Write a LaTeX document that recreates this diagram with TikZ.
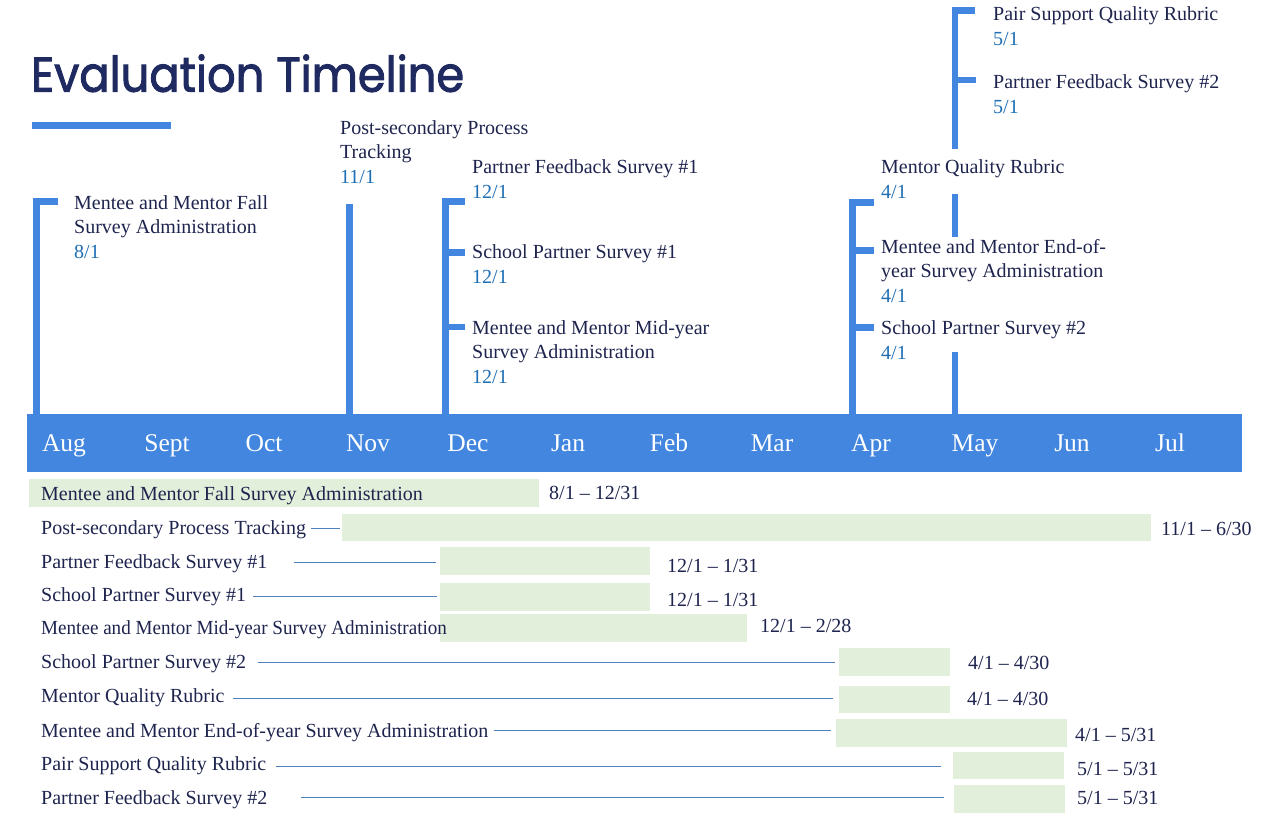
\documentclass[tikz,border=0pt]{standalone}
\usepackage{fontspec}
\setmainfont{Liberation Serif}
\newfontfamily\titlefont{Poppins}[FakeBold=2]
\definecolor{tlblue}{RGB}{66,134,223}
\definecolor{navy}{RGB}{31,42,96}
\definecolor{txt}{RGB}{30,36,78}
\definecolor{datec}{RGB}{30,110,180}
\definecolor{barc}{RGB}{226,239,218}
\definecolor{linec}{RGB}{79,129,189}
\newcommand\dt[1]{\textcolor{datec}{#1}}
\begin{document}
\begin{tikzpicture}[x=1pt,y=-1pt,
  lbl/.style={anchor=base west, inner sep=0, align=left, text=txt, font=\fontsize{20}{24.5}\selectfont},
  rowlbl/.style={anchor=base west, inner sep=0, text=txt, font=\fontsize{20}{24}\selectfont},
  month/.style={anchor=base, inner sep=0, text=white, font=\fontsize{25.5}{30}\selectfont},
  stem/.style={draw=tlblue, line width=6.5pt},
  bar/.style={fill=barc, inner sep=0, anchor=north west, draw=none},
  conn/.style={draw=linec, line width=1pt}]
\useasboundingbox (0,0) rectangle (1264,815);
% title
\node[anchor=base west, inner sep=0, text=navy, font=\titlefont\fontsize{49}{50}\selectfont] (title) at (31,91.7) {\scalebox{0.915}[1]{Evaluation Timeline}};
\fill[tlblue] (32.3,122.3) rectangle (171,129);
% stems
\draw[stem] (36.3,414) -- (36.3,201.3) -- (58.3,201.3);
\draw[stem] (349.5,414) -- (349.5,204.3);
\draw[stem] (445.3,414) -- (445.3,201.5) -- (465,201.5);
\draw[stem] (445.3,252.5) -- (465,252.5);
\draw[stem] (445.3,327) -- (465,327);
\draw[stem] (852.3,414) -- (852.3,202.5) -- (874,202.5);
\draw[stem] (852.3,250.7) -- (874,250.7);
\draw[stem] (852.3,327.5) -- (874,327.5);
\draw[stem] (955,148.7) -- (955,10.3) -- (975,10.3);
\draw[stem] (955,80) -- (976,80);
\draw[stem] (955,194) -- (955,236.7);
\draw[stem] (955,351.7) -- (955,414);
% band
\node[fill=tlblue, inner sep=0, minimum width=1215pt, minimum height=58pt, anchor=north west] (band) at (27,414) {};
\foreach \m/\x in {Aug/64,Sept/167,Oct/264,Nov/368,Dec/468,Jan/568,Feb/669,Mar/772,Apr/871,May/975,Jun/1072,Jul/1170}
  \node[month] (m\m) at (\x,451.7) {\m};
% top labels (anchored at the baseline of the last line, the date)
\node[lbl] (fall) at (74,258) {Mentee and Mentor Fall\\Survey Administration\\\dt{8/1}};
\node[lbl] (post) at (340,183) {Post-secondary Process\\Tracking\\\dt{11/1}};
\node[lbl] (pfs1) at (472,198) {Partner Feedback Survey \#1\\\dt{12/1}};
\node[lbl] (sps1) at (472,283) {School Partner Survey \#1\\\dt{12/1}};
\node[lbl] (mid) at (472,383) {Mentee and Mentor Mid-year\\Survey Administration\\\dt{12/1}};
\node[lbl] (psq) at (993,45) {Pair Support Quality Rubric\\\dt{5/1}};
\node[lbl] (pfs2) at (993,113) {Partner Feedback Survey \#2\\\dt{5/1}};
\node[lbl] (mqr) at (881,198) {Mentor Quality Rubric\\\dt{4/1}};
\node[lbl] (eoy) at (881,302) {Mentee and Mentor End-of-\\year Survey Administration\\\dt{4/1}};
\node[lbl] (sps2) at (881,359) {School Partner Survey \#2\\\dt{4/1}};
% bars
\node[bar, minimum width=510pt, minimum height=28pt] (b1) at (29,479) {};
\node[bar, minimum width=808.5pt, minimum height=27pt] (b2) at (342,514) {};
\node[bar, minimum width=210pt, minimum height=28pt] (b3) at (440,547) {};
\node[bar, minimum width=210pt, minimum height=28pt] (b4) at (440,583) {};
\node[bar, minimum width=307pt, minimum height=28pt] (b5) at (440,614) {};
\node[bar, minimum width=111pt, minimum height=28pt] (b6) at (839,648) {};
\node[bar, minimum width=111pt, minimum height=27pt] (b7) at (839,686) {};
\node[bar, minimum width=231pt, minimum height=28pt] (b8) at (836,719) {};
\node[bar, minimum width=111pt, minimum height=27pt] (b9) at (953,752) {};
\node[bar, minimum width=111pt, minimum height=28pt] (b10) at (954,785) {};
% row labels
\node[rowlbl] (r1) at (41,500) {Mentee and Mentor Fall Survey Administration};
\node[rowlbl] (r2) at (41,534.5) {Post-secondary Process Tracking};
\node[rowlbl] (r3) at (41,568) {Partner Feedback Survey \#1};
\node[rowlbl] (r4) at (41,601) {School Partner Survey \#1};
\node[rowlbl] (r5) at (41,634) {\scalebox{0.955}[1]{Mentee and Mentor Mid-year Survey Administration}};
\node[rowlbl] (r6) at (41,668) {School Partner Survey \#2};
\node[rowlbl] (r7) at (41,702) {Mentor Quality Rubric};
\node[rowlbl] (r8) at (41,737) {Mentee and Mentor End-of-year Survey Administration};
\node[rowlbl] (r9) at (41,770) {Pair Support Quality Rubric};
\node[rowlbl] (r10) at (41,804) {Partner Feedback Survey \#2};
% ranges
\node[rowlbl] (g1) at (549,499) {8/1 -- 12/31};
\node[rowlbl] (g2) at (1161,535) {11/1 -- 6/30};
\node[rowlbl] (g3) at (667,572) {12/1 -- 1/31};
\node[rowlbl] (g4) at (667,606) {12/1 -- 1/31};
\node[rowlbl] (g5) at (760,632) {12/1 -- 2/28};
\node[rowlbl] (g6) at (968,669) {4/1 -- 4/30};
\node[rowlbl] (g7) at (967,705) {4/1 -- 4/30};
\node[rowlbl] (g8) at (1075,741) {4/1 -- 5/31};
\node[rowlbl] (g9) at (1077,775) {5/1 -- 5/31};
\node[rowlbl] (g10) at (1077,804) {5/1 -- 5/31};
% connectors
\coordinate (s2) at (311,528);
\coordinate (s3) at (294,562);
\coordinate (s4) at (253,596);
\coordinate (s6) at (257.5,662);
\coordinate (s7) at (233,698);
\coordinate (s8) at (493.5,730);
\coordinate (s9) at (276,766);
\coordinate (s10) at (301,797);
\draw[conn, shorten >=2pt] (s2) -- (s2 -| b2.west);
\draw[conn, shorten >=4pt] (s3) -- (s3 -| b3.west);
\draw[conn, shorten >=3pt] (s4) -- (s4 -| b4.west);
\draw[conn, shorten >=4pt] (s6) -- (s6 -| b6.west);
\draw[conn, shorten >=6pt] (s7) -- (s7 -| b7.west);
\draw[conn, shorten >=5pt] (s8) -- (s8 -| b8.west);
\draw[conn, shorten >=12pt] (s9) -- (s9 -| b9.west);
\draw[conn, shorten >=10pt] (s10) -- (s10 -| b10.west);
\end{tikzpicture}
\end{document}
